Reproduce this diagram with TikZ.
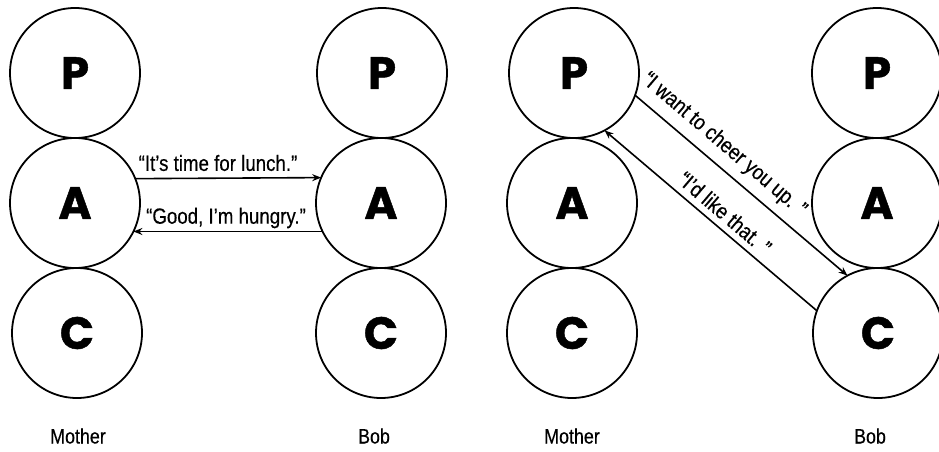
\documentclass[tikz,border=0pt]{standalone}
\usepackage{fontspec}
\usetikzlibrary{arrows.meta}
\newfontfamily\pacfont{Poppins}[UprightFont=* Bold, FakeBold=1]
\newfontfamily\labfont{Liberation Sans}[FakeStretch=0.85, FakeBold=0.4]
\tikzset{
  egocirc/.style={circle, draw, line width=1.8pt, minimum size=130pt, inner sep=0pt, outer sep=0pt,
    font=\pacfont\fontsize{45}{45}\selectfont},
  msg/.style={line width=1.6pt, -{Stealth[length=9pt,width=7pt,inset=3pt]}},
  speech/.style={font=\labfont\fontsize{22}{22}\selectfont, inner sep=0pt},
  who/.style={font=\labfont\fontsize{21}{21}\selectfont, inner sep=0pt}
}
\begin{document}
\begin{tikzpicture}[x=1pt,y=-1pt]
\useasboundingbox (0,0) rectangle (939,452);
% left: Mother
\node[egocirc] (mP) at (75,73) {P};
\node[egocirc] (mA) at (75,203) {A};
\node[egocirc] (mC) at (77,333) {C};
% left: Bob
\node[egocirc] (bP) at (382,73) {P};
\node[egocirc] (bA) at (381,203) {A};
\node[egocirc] (bC) at (381,333) {C};
% right: Mother
\node[egocirc] (rmP) at (574,73) {P};
\node[egocirc] (rmA) at (572,203) {A};
\node[egocirc] (rmC) at (572,333) {C};
% right: Bob
\node[egocirc] (rbP) at (877,73) {P};
\node[egocirc] (rbA) at (877,203) {A};
\node[egocirc] (rbC) at (878,333) {C};
% left transactions
\draw[msg] (mA.22.6) -- (bA.157.4);
\draw[msg] (bA.206.5) -- (mA.-26.5);
\node[speech] (t1) at (218,163) {“It’s time for lunch.”};
\node[speech] (t2) at (226,218) {“Good, I’m hungry.”};
% right transactions
\draw[msg] (rmP.-20) -- (rbC.118);
\draw[msg] (rbC.160.5) -- (rmP.-62);
\node[speech, rotate=-40.5] (t3) at (724,145) {“I want to cheer you up. ”};
\node[speech, rotate=-40.5] (t4) at (725,213) {“I’d like that. ”};
% names
\node[who] (n1) at (78,436) {Mother};
\node[who] (n2) at (374,436) {Bob};
\node[who] (n3) at (572,436) {Mother};
\node[who] (n4) at (870,436) {Bob};
\end{tikzpicture}
\end{document}
